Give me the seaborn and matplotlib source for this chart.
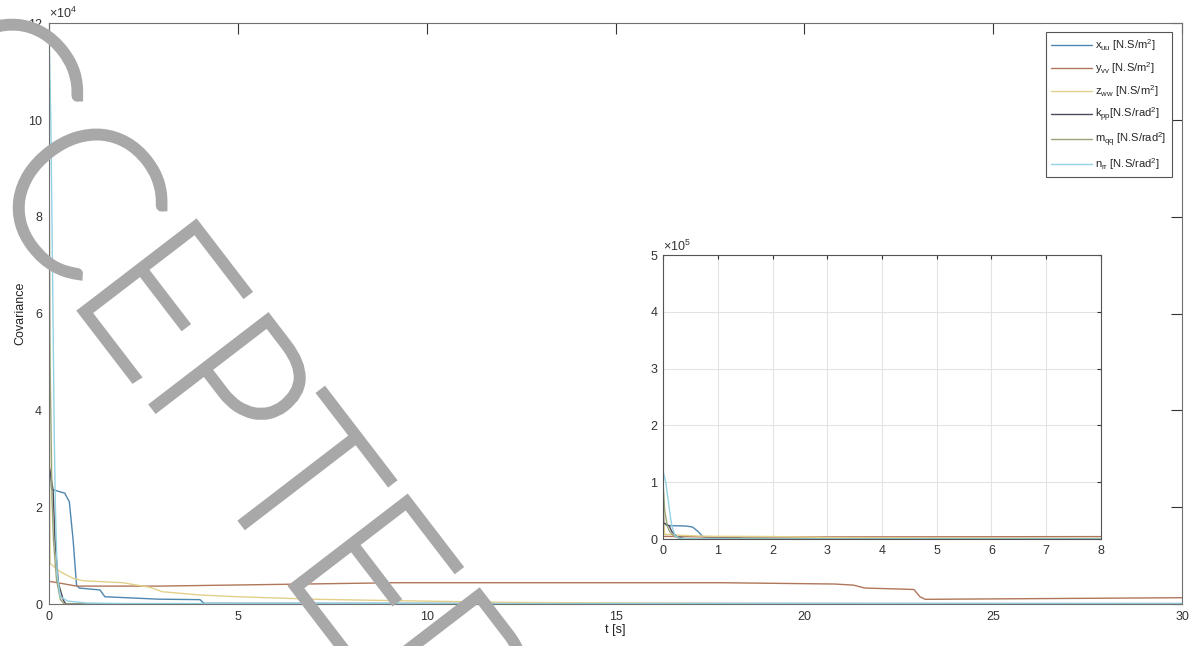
import matplotlib
matplotlib.use("Agg")
import numpy as np
import pandas as pd
import matplotlib.pyplot as plt
import matplotlib.patheffects as pe
import seaborn as sns

# valores (Covariance x t [s])
t_xuu = [0, 0.02, 0.07, 0.42, 0.54, 0.64, 0.73, 0.8, 1.35, 1.48, 2.9, 4.0, 4.1, 30]
v_xuu = [28000, 27700, 23700, 22900, 21100, 13200, 3900, 3300, 2900, 1500, 1000, 900, 150, 100]

t_yvv = [0, 0.3, 0.73, 2.9, 9.2, 11.4, 17.8, 20.8, 21.3, 21.6, 22.5, 22.9, 23.06, 23.2, 30]
v_yvv = [4700, 4300, 3700, 3700, 4400, 4400, 4400, 4130, 3900, 3300, 3100, 3000, 1500, 970, 1300]

t_zww = [0, 0.01, 0.03, 0.29, 0.64, 0.91, 1.96, 2.67, 3.0, 4.0, 4.97, 7.1, 9.2, 12, 16, 20, 30]
v_zww = [90000, 40000, 8400, 6700, 5300, 4800, 4400, 3450, 2540, 1860, 1510, 970, 690, 350, 150, 50, 0]

t_kpp = [0, 0.01, 0.11, 0.16, 0.25, 0.38, 0.45, 30]
v_kpp = [115000, 28350, 23500, 13200, 4300, 800, 0, 0]

t_mqq = [0, 0.03, 0.08, 0.12, 0.2, 0.3, 0.4, 30]
v_mqq = [100000, 50000, 22000, 13000, 5000, 1000, 0, 0]

t_nrr = [0, 0.05, 0.1, 0.14, 0.17, 0.22, 0.3, 0.5, 1.0, 2.0, 30]
v_nrr = [120000, 100000, 65000, 35000, 20000, 6000, 1500, 600, 200, 100, 50]

nomes = [r"x$_{\mathregular{uu}}$ [N.S/m$^{\mathregular{2}}$]",
         r"y$_{\mathregular{vv}}$ [N.S/m$^{\mathregular{2}}$]",
         r"z$_{\mathregular{ww}}$ [N.S/m$^{\mathregular{2}}$]",
         r"k$_{\mathregular{pp}}$[N.S/rad$^{\mathregular{2}}$]",
         r"m$_{\mathregular{qq}}$ [N.S/rad$^{\mathregular{2}}$]",
         r"n$_{\mathregular{rr}}$ [N.S/rad$^{\mathregular{2}}$]"]
cores = ["#4f86b0", "#b0765a", "#e2d08a", "#4d4a5c", "#9aa57a", "#92d2e2"]

series = [(t_xuu, v_xuu), (t_yvv, v_yvv), (t_zww, v_zww),
          (t_kpp, v_kpp), (t_mqq, v_mqq), (t_nrr, v_nrr)]
partes = []
for nome, (t, v) in zip(nomes, series):
    partes.append(pd.DataFrame({"t": t, "cov": v, "serie": nome}))
df = pd.concat(partes, ignore_index=True)

sns.set_style("white")
plt.rcParams["font.family"] = ["Liberation Sans", "DejaVu Sans"]
plt.rcParams["mathtext.fontset"] = "custom"
plt.rcParams["mathtext.rm"] = "Liberation Sans"
plt.rcParams["mathtext.it"] = "Liberation Sans"

fig = plt.figure(figsize=(11.94, 6.46), dpi=100)
ax = fig.add_axes([0.041, 0.065, 0.949, 0.899])

sns.lineplot(data=df, x="t", y="cov", hue="serie", hue_order=nomes, palette=cores,
             estimator=None, sort=False, linewidth=1.0, ax=ax)

ax.set_xlim(0, 30)
ax.set_ylim(0, 120000)
ax.set_xticks(range(0, 31, 5))
ax.set_yticks(range(0, 120001, 20000))
ax.set_yticklabels([str(i) for i in range(0, 13, 2)])
ax.tick_params(direction="in", length=8, width=0.8, top=True, right=True,
               labelsize=9, colors="#333333", pad=5)
for s in ax.spines.values():
    s.set_color("#707070")
    s.set_linewidth(0.8)
ax.set_xlabel("t [s]", fontsize=9, color="#222222", labelpad=1)
ax.set_ylabel("Covariance", fontsize=9, color="#222222", labelpad=1)
ax.text(0.0, 1.004, r"$\times\mathregular{10^{4}}$", transform=ax.transAxes,
        ha="left", va="bottom", fontsize=9, color="#333333")

ax.legend(loc="upper right", bbox_to_anchor=(0.9912, 0.985), borderaxespad=0,
          fontsize=8, handlelength=3.7, handletextpad=0.25, labelspacing=0.62,
          borderpad=0.5, frameon=True, fancybox=False, edgecolor="#555555",
          framealpha=1)
ax.get_legend().get_frame().set_linewidth(0.8)

# inset com zoom em t de 0 a 8
axi = fig.add_axes([0.5553, 0.1656, 0.3668, 0.4396])
sns.lineplot(data=df, x="t", y="cov", hue="serie", hue_order=nomes, palette=cores,
             estimator=None, sort=False, linewidth=1.0, ax=axi, legend=False)
axi.set_xlim(0, 8)
axi.set_ylim(0, 500000)
axi.set_xticks(range(0, 9))
axi.set_yticks(range(0, 500001, 100000))
axi.set_yticklabels([str(i) for i in range(0, 6)])
axi.grid(True, color="#e3e3e3", linewidth=0.8)
axi.tick_params(direction="in", length=3, width=0.8, top=True, right=True,
                labelsize=9, colors="#333333", pad=4)
for s in axi.spines.values():
    s.set_color("#555555")
    s.set_linewidth(0.8)
axi.set_xlabel("")
axi.set_ylabel("")
axi.text(0.0, 1.004, r"$\times\mathregular{10^{5}}$", transform=axi.transAxes,
         ha="left", va="bottom", fontsize=9, color="#333333")

# marca d'agua
fig.text(177 / 1194, 1 - 344 / 646, "ACCEPTED", fontsize=146, color="#a8a8a8",
         rotation=-52.5, rotation_mode="anchor", ha="center", va="center",
         family=["Lato", "Liberation Sans"], fontweight="light", zorder=20,
         path_effects=[pe.Stroke(linewidth=7, foreground="#a8a8a8",
                                 joinstyle="miter", capstyle="butt")])

fig.savefig("out.png", dpi=100)
